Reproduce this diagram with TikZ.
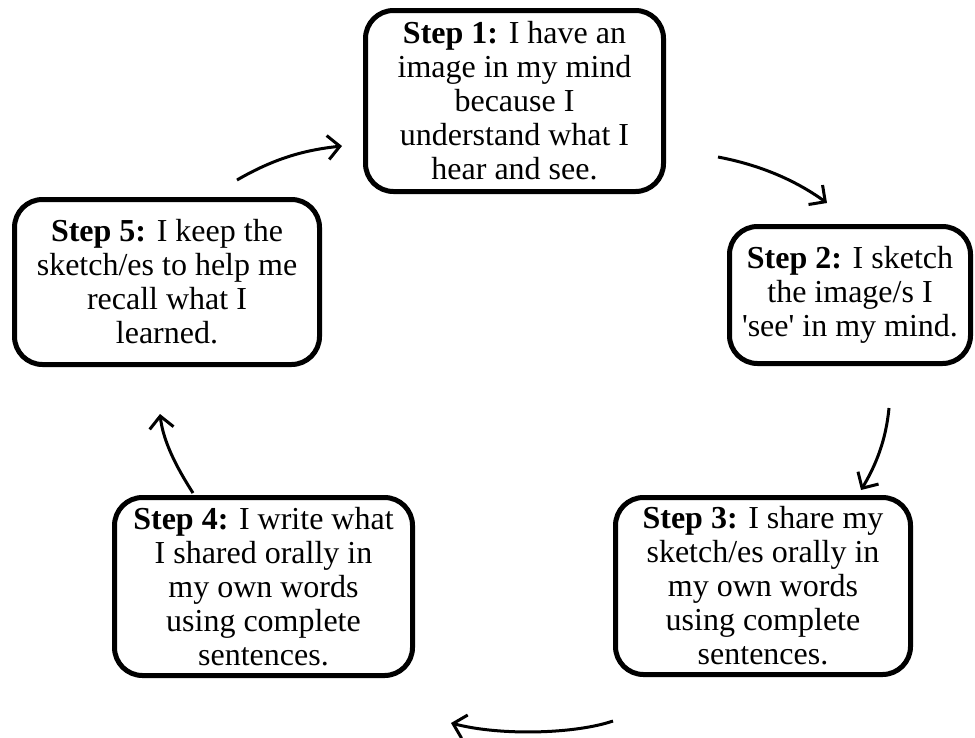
\documentclass[tikz,border=0pt]{standalone}
\usepackage{fontspec}
\setmainfont{Liberation Serif}
\usetikzlibrary{arrows.meta}
\begin{document}
\begin{tikzpicture}[x=1pt,y=-1pt,
  stepbox/.style={draw=black, line width=5pt, rounded corners=28pt, fill=white,
    inner sep=0pt, align=center, font=\fontsize{32}{34}\selectfont},
  flow/.style={line width=3pt, -{Straight Barb[length=12pt,width=24pt,line width=3pt]}}]
\useasboundingbox (0,0) rectangle (975,737);
\node[stepbox, minimum width=298pt, minimum height=181pt] (s1) at (514.5,101)
  {\textbf{Step 1:} I have an\\image in my mind\\because I\\understand what I\\hear and see.};
\node[stepbox, minimum width=241pt, minimum height=137pt] (s2) at (850,295)
  {\textbf{Step 2:} I sketch\\the image/s I\\\textquotesingle see\textquotesingle{} in my mind.};
\node[stepbox, minimum width=295pt, minimum height=177pt] (s3) at (763,586)
  {\textbf{Step 3:} I share my\\sketch/es orally in\\my own words\\using complete\\sentences.};
\node[stepbox, minimum width=298pt, minimum height=178pt] (s4) at (263.5,586.5)
  {\textbf{Step 4:} I write what\\I shared orally in\\my own words\\using complete\\sentences.};
\node[stepbox, minimum width=305pt, minimum height=165pt] (s5) at (167,282)
  {\textbf{Step 5:} I keep the\\sketch/es to help me\\recall what I\\learned.};
% arrow end points
\coordinate (a1s) at (237,180);
\coordinate (a1e) at (342,146);
\coordinate (a2s) at (718,157);
\coordinate (a2e) at (827,203);
\coordinate (a3s) at (889,408);
\coordinate (a3e) at (861,490);
\coordinate (a4s) at (613,721);
\coordinate (a4e) at (451,723);
\coordinate (a5s) at (193,493);
\coordinate (a5e) at (160,414);
\draw[flow] (a1s) .. controls (275,158) and (305,150) .. (a1e);
\draw[flow] (a2s) .. controls (760,165) and (795,180) .. (a2e);
\draw[flow] (a3s) .. controls (886,440) and (876,465) .. (a3e);
\draw[flow] (a4s) .. controls (575,734) and (500,736) .. (a4e);
\draw[flow] (a5s) .. controls (175,465) and (163,440) .. (a5e);
\end{tikzpicture}
\end{document}
